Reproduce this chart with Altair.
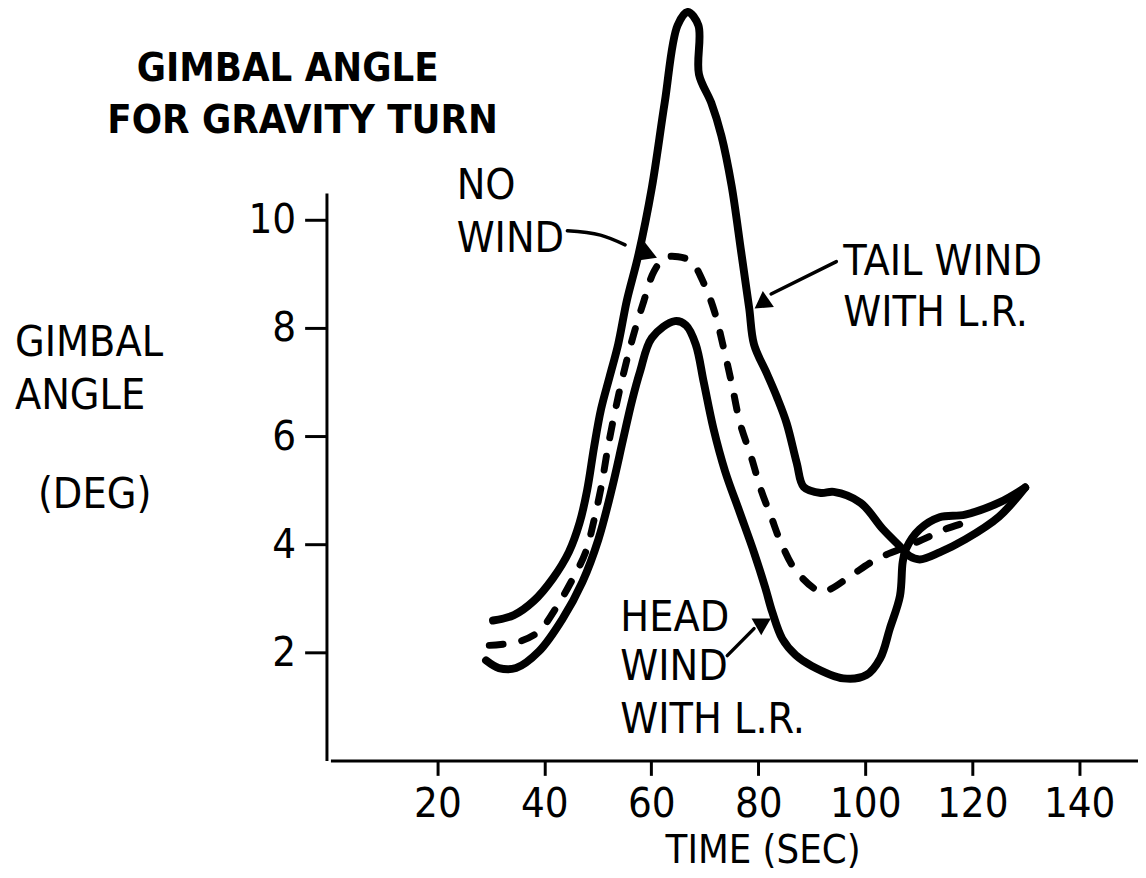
import altair as alt
import pandas as pd

FONT = "Liberation Sans Narrow, DejaVu Sans Condensed, Liberation Sans, sans-serif"

# ---- data: time (s) and gimbal angle (deg) ----
tail_t = [30.4, 34.3, 38.0, 41.6, 44.6, 46.6, 48.0, 49.3, 50.6, 52.2, 53.8, 55.4, 57.6, 60.1,
          62.5, 64.9, 66.8, 68.8, 68.9, 71.2, 73.1, 75.0, 76.8, 78.3, 79.2, 81.6, 83.5, 85.3,
          87.2, 88.5, 91.7, 94.1, 99.1, 103.3, 106.5, 108.3, 110.2, 113.9, 118.7, 125.0, 129.9]
tail_v = [2.59, 2.69, 2.95, 3.37, 3.86, 4.40, 5.00, 5.80, 6.50, 7.10, 7.70, 8.50, 9.36, 10.60,
          12.17, 13.60, 13.85, 13.60, 12.70, 12.17, 11.56, 10.64, 9.41, 8.37, 7.70, 7.16, 6.72,
          6.24, 5.50, 5.06, 4.95, 4.97, 4.77, 4.28, 3.96, 3.78, 3.72, 3.85, 4.09, 4.51, 5.05]

nowind_t = [29.7, 35.3, 39.0, 42.1, 45.3, 47.7, 49.3, 50.7, 51.9, 53.3, 54.9, 56.6, 58.6, 60.5,
            62.5, 65.0, 67.5, 69.9, 71.8, 73.6, 75.1, 76.6, 78.7, 80.5, 82.4, 84.2, 87.2, 91.7,
            93.5, 97.2, 102.0, 106.5, 110.8, 115.0, 118.7]
nowind_v = [2.13, 2.20, 2.39, 2.81, 3.36, 3.85, 4.45, 5.10, 5.80, 6.50, 7.20, 7.85, 8.50, 9.05,
            9.30, 9.32, 9.23, 8.81, 8.31, 7.60, 6.94, 6.24, 5.61, 5.01, 4.51, 4.04, 3.49, 3.12,
            3.17, 3.41, 3.72, 3.91, 4.09, 4.28, 4.40]

head_t = [29.1, 31.5, 34.7, 39.0, 43.4, 47.1, 50.1, 52.7, 54.7, 56.4, 57.9, 60.1, 64.4, 66.5,
          68.3, 69.8, 71.6, 73.8, 76.5, 79.2, 81.3, 82.6, 84.5, 87.0, 90.0, 95.9, 100.2, 102.8,
          104.6, 106.5, 107.0, 107.6, 110.2, 113.9, 118.7, 125.0, 129.9]
head_v = [1.85, 1.71, 1.71, 2.02, 2.62, 3.30, 4.09, 5.06, 5.93, 6.66, 7.20, 7.82, 8.13, 8.05,
          7.70, 7.00, 6.15, 5.35, 4.60, 3.85, 3.20, 2.75, 2.25, 1.95, 1.75, 1.52, 1.58, 1.89,
          2.44, 3.05, 3.67, 3.91, 4.28, 4.50, 4.55, 4.77, 5.05]

x_ticks = [20, 40, 60, 80, 100, 120, 140]
y_ticks = [2, 4, 6, 8, 10]

# annotation arrows (shaft points) and arrowheads
arrow_id = ["nw", "nw", "nw", "tw", "tw", "hw", "hw"]
arrow_t = [44.3, 50.5, 55.1, 94.6, 82.4, 74.2, 79.2]
arrow_v = [9.80, 9.72, 9.54, 9.23, 8.63, 1.94, 2.44]
head_pt_t = [59.6, 80.6, 81.0]
head_pt_v = [9.36, 8.45, 2.55]
head_angle = [112, 235, 60]

# text labels
lab_text = ["NO", "WIND", "TAIL WIND", "WITH L.R.", "HEAD", "WIND", "WITH L.R.",
            "GIMBAL", "ANGLE", "(DEG)"]
lab_t = [23.6, 23.6, 95.9, 95.9, 54.2, 54.2, 54.2, -59.0, -59.0, -54.7]
lab_v = [10.39, 9.41, 8.99, 8.04, 2.40, 1.49, 0.51, 7.49, 6.51, 4.68]

title_text = ["GIMBAL ANGLE", "FOR GRAVITY TURN"]
title_t = [-8.0, -5.2]
title_v = [12.57, 11.61]

xtitle_text = ["TIME (SEC)"]
xtitle_t = [80.9]
xtitle_v = [-1.89]


def series(ts, vs):
    return pd.DataFrame({"t": ts, "v": vs, "i": list(range(len(ts)))})


x_enc = alt.X("t:Q",
              scale=alt.Scale(domain=[0, 151], nice=False, zero=False),
              axis=alt.Axis(values=x_ticks, tickSize=15, tickWidth=3, tickColor="black",
                            domainWidth=3, domainColor="black", labelFont=FONT,
                            labelFontSize=42, labelColor="black", labelPadding=8,
                            grid=False, title=None, labelFlush=False, format="d"))
y_enc = alt.Y("v:Q",
              scale=alt.Scale(domain=[0, 10.5], nice=False, zero=False),
              axis=alt.Axis(values=y_ticks, tickSize=22, tickWidth=3, tickColor="black",
                            domainWidth=3, domainColor="black", labelFont=FONT,
                            labelFontSize=42, labelColor="black", labelPadding=9,
                            grid=False, title=None, offset=4, labelFlush=False, format="d"))

line_kw = dict(interpolate="catmull-rom", color="black", clip=False,
               strokeCap="round", strokeJoin="round")

tail = alt.Chart(series(tail_t, tail_v)).mark_line(strokeWidth=8, **line_kw).encode(
    x=x_enc, y=y_enc, order="i:Q")
head = alt.Chart(series(head_t, head_v)).mark_line(strokeWidth=8, **line_kw).encode(
    x="t:Q", y="v:Q", order="i:Q")
nowind = alt.Chart(series(nowind_t, nowind_v)).mark_line(
    strokeWidth=7, strokeDash=[14, 19], **line_kw).encode(x="t:Q", y="v:Q", order="i:Q")

arrows_df = pd.DataFrame({"id": arrow_id, "t": arrow_t, "v": arrow_v,
                          "i": list(range(len(arrow_t)))})
arrows = alt.Chart(arrows_df).mark_line(strokeWidth=3.5, interpolate="monotone",
                                        color="black", clip=False, strokeCap="round").encode(
    x="t:Q", y="v:Q", detail="id:N", order="i:Q")

heads_df = pd.DataFrame({"t": head_pt_t, "v": head_pt_v, "a": head_angle})
heads = alt.Chart(heads_df).mark_point(shape="triangle-up", filled=True, size=380,
                                       color="black", opacity=1, clip=False).encode(
    x="t:Q", y="v:Q", angle=alt.Angle("a:Q", scale=None))

labels_df = pd.DataFrame({"text": lab_text, "t": lab_t, "v": lab_v})
labels = alt.Chart(labels_df).mark_text(font=FONT, fontSize=43, align="left",
                                        baseline="alphabetic", color="black",
                                        clip=False).encode(x="t:Q", y="v:Q", text="text:N")

title_df = pd.DataFrame({"text": title_text, "t": title_t, "v": title_v})
title = alt.Chart(title_df).mark_text(font=FONT, fontSize=40, fontWeight="bold",
                                      align="center", baseline="alphabetic", color="black",
                                      clip=False).encode(x="t:Q", y="v:Q", text="text:N")

xt_df = pd.DataFrame({"text": xtitle_text, "t": xtitle_t, "v": xtitle_v})
xtitle = alt.Chart(xt_df).mark_text(font=FONT, fontSize=40, align="center",
                                    baseline="alphabetic", color="black",
                                    clip=False).encode(x="t:Q", y="v:Q", text="text:N")

chart = alt.layer(tail, nowind, head, arrows, heads, labels, title, xtitle).properties(
    width=814, height=572,
    autosize=alt.AutoSizeParams(type="none"),
    padding={"left": 325, "top": 183, "right": 0, "bottom": 115},
    background="white",
).configure_view(stroke=None)

chart.save("out.html", embed_options={"renderer": "svg", "actions": False})
